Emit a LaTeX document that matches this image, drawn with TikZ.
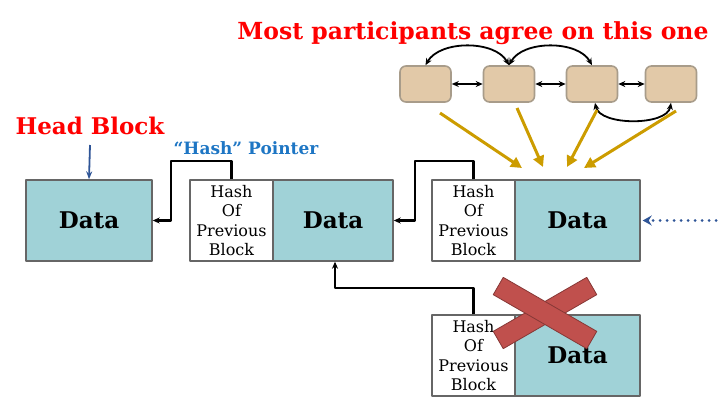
\documentclass[tikz,border=0pt]{standalone}
\usepackage{fontspec}
\setmainfont{DejaVu Serif}
\usetikzlibrary{arrows.meta}
\definecolor{teal1}{RGB}{160,210,215}
\definecolor{tan1}{RGB}{226,201,168}
\definecolor{tanline}{RGB}{168,156,138}
\definecolor{gold1}{RGB}{204,156,0}
\definecolor{navy1}{RGB}{47,85,151}
\definecolor{ptrblue}{RGB}{30,118,196}
\definecolor{xred}{RGB}{192,80,77}
\tikzset{
  datablk/.style={draw=black!60, line width=1.4bp, fill=teal1, minimum width=126bp, minimum height=81bp,
    inner sep=0pt, font=\fontsize{23bp}{26bp}\selectfont\bfseries},
  hashblk/.style={draw=black!60, line width=1.4bp, fill=white, minimum width=83bp, minimum height=81bp,
    inner sep=0pt, align=center, font=\fontsize{16bp}{19.5bp}\selectfont},
  peer/.style={draw=tanline, fill=tan1, rounded corners=6bp, line width=1.6bp,
    minimum width=51bp, minimum height=36bp, inner sep=0pt},
  ptr/.style={line width=2.2bp, -{Stealth[length=7bp,width=6bp]}},
  vote/.style={gold1, line width=3bp, -{Triangle[length=11bp,width=11bp]}},
  link/.style={line width=1.8bp, {Stealth[length=7bp,width=6bp]}-{Stealth[length=7bp,width=6bp]}}
}
\begin{document}
\begin{tikzpicture}[x=1bp, y=-1bp, line join=round]
\useasboundingbox (0,0) rectangle (720,403);
% title and labels
\node[red, font=\fontsize{23.5bp}{26bp}\selectfont\bfseries] (title) at (473,33) {Most participants agree on this one};
\node[red, font=\fontsize{23bp}{26bp}\selectfont\bfseries] (head) at (90,126) {Head Block};
\node[ptrblue, font=\fontsize{17bp}{20bp}\selectfont\bfseries] (hp) at (246,148) {``Hash'' Pointer};
% chain of blocks
\node[datablk] (d1) at (89,220.5) {Data};
\node[hashblk] (h2) at (231.5,220.5) {Hash\\Of\\Previous\\Block};
\node[datablk, minimum width=120bp] (d2) at (333,220.5) {Data};
\node[hashblk] (h3) at (473.5,220.5) {Hash\\Of\\Previous\\Block};
\node[datablk, minimum width=125bp] (d3) at (577.5,220.5) {Data};
\node[hashblk] (h4) at (473.5,355.5) {Hash\\Of\\Previous\\Block};
\node[datablk, minimum width=125bp] (d4) at (577.5,355.5) {Data};
% hash pointers
\draw[ptr] (h2.north) |- (171,161) |- (d1.east);
\draw[ptr] (h3.north) |- (415,161) |- (d2.east);
\draw[ptr] (h4.north) |- (335,288) -- (d2.south -| 335,0);
\coordinate (hb) at (90,145);
\draw[navy1, line width=1.8bp, -{Stealth[length=8bp,width=6bp]}] (hb) -- (d1.north);
\coordinate (more) at (716,220.5);
\draw[navy1, line width=3bp, line cap=round, dash pattern=on 0bp off 7bp, -{Stealth[length=9bp,width=10bp,inset=3bp,line cap=butt]}] (more) -- ([xshift=2bp]d3.east);
% rejected block
\begin{scope}[rotate around={30:(545,313)}]
\filldraw[xred, draw=xred!70!black, line width=0.8bp] (491,303) rectangle (599,323);
\end{scope}
\begin{scope}[rotate around={-30:(545,313)}]
\filldraw[xred, draw=xred!70!black, line width=0.8bp] (491,303) rectangle (599,323);
\end{scope}
% participants
\node[peer] (p1) at (425.5,84) {};
\node[peer] (p2) at (509,84) {};
\node[peer] (p3) at (592,84) {};
\node[peer] (p4) at (671,84) {};
\draw[link] (p1) -- (p2);
\draw[link] (p2) -- (p3);
\draw[link] (p3) -- (p4);
\draw[link] (p2.north) .. controls (495,40) and (440,40) .. (p1.north);
\draw[link] (p2.north) .. controls (523,40) and (578,40) .. (p3.north);
\draw[link] ([xshift=3bp]p3.south) .. controls (600,126) and (667,126) .. (p4.south);
% votes
\coordinate (v1) at (440,113); \coordinate (e1) at (522,168);
\coordinate (v2) at (517,108); \coordinate (e2) at (543,167);
\coordinate (v3) at (597,110); \coordinate (e3) at (567,167);
\coordinate (v4) at (676,111); \coordinate (e4) at (584,168);
\foreach \i in {1,...,4}\draw[vote] (v\i) -- (e\i);
\end{tikzpicture}
\end{document}
